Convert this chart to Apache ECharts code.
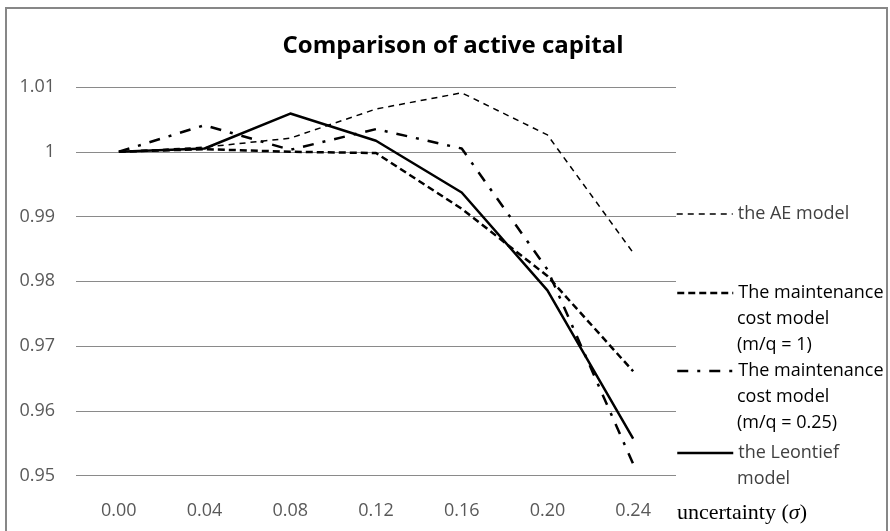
<!DOCTYPE html>
<html>
<head>
<meta charset="utf-8">
<script src="https://cdn.jsdelivr.net/npm/echarts@6/dist/echarts.min.js"></script>
<style>html,body{margin:0;padding:0;background:#fff}#c{width:890px;height:531px}</style>
</head>
<body>
<div id="c"></div>
<script>
const categories = ['0.00', '0.04', '0.08', '0.12', '0.16', '0.20', '0.24'];
const aeModel = [1.0000, 1.0007, 1.0021, 1.0066, 1.0091, 1.0026, 0.9844];
const maint1 = [1.0000, 1.0004, 1.0000, 0.9998, 0.9912, 0.9808, 0.9661];
const maint025 = [1.0000, 1.0041, 1.0003, 1.0035, 1.0005, 0.9818, 0.9518];
const leontief = [1.0000, 1.0005, 1.0059, 1.0017, 0.9937, 0.9786, 0.9557];
const yTicks = { min: 0.95, max: 1.01, interval: 0.01 };
const titleText = 'Comparison of active capital';
const names = ['the AE model', 'The maintenance', 'The maintenance ', 'the Leontief'];
const extraLines = [[], ['cost model', '(m/q = 1)'], ['cost model', '(m/q = 0.25)'], ['model']];

const FONT = '"Open Sans", sans-serif';
const chart = echarts.init(document.getElementById('c'), null, { renderer: 'canvas' });

const lineWidths = [1.5, 2.5, 2.5, 2.5];
const lineDashes = [[6, 5], [7, 4], [11, 9, 3, 9], 'solid'];
const legendCenters = [212, 291, 369, 451];
const legendColors = ['#404040', '#000', '#000', '#404040'];
const legends = names.map((n, i) => ({
  data: [n],
  left: 676,
  top: legendCenters[i] - 7,
  orient: 'vertical',
  itemWidth: 56,
  itemHeight: 14,
  padding: 0,
  selectedMode: false,
  itemStyle: { opacity: 0, borderWidth: 0 },
  lineStyle: { width: lineWidths[i] },
  textStyle: { fontFamily: FONT, fontSize: 18, color: legendColors[i] }
}));

const graphics = [{
  type: 'rect', shape: { x: 6, y: 8, width: 881, height: 560 },
  style: { fill: 'none', stroke: '#878787', lineWidth: 2 }, silent: true
}];
extraLines.forEach((lines, i) => {
  lines.forEach((t, j) => {
    graphics.push({
      type: 'text', left: 737, top: legendCenters[i] + 26 * (j + 1) - 7,
      style: { text: t, font: '18px ' + FONT, fill: legendColors[i] }
    });
  });
});

function mkSeries(i, data, z) {
  return {
    name: names[i], type: 'line', data, symbol: 'none', z,
    lineStyle: { color: '#000', width: lineWidths[i], type: lineDashes[i], join: 'round', cap: 'butt' },
    itemStyle: { color: '#000' }
  };
}

chart.setOption({
  animation: false,
  title: [{
    text: titleText, left: 448, textAlign: 'center', top: 29,
    textStyle: { fontFamily: FONT, fontSize: 24, fontWeight: 'bold', color: '#000' }
  }, {
    text: '{a|uncertainty (}{b|σ}{a|)}', left: 672, top: 497,
    textStyle: {
      fontWeight: 'normal',
      rich: {
        a: { fontFamily: '"Liberation Serif", serif', fontSize: 22, fontWeight: 'normal', color: '#000' },
        b: { fontFamily: '"Liberation Serif", serif', fontSize: 22, fontWeight: 'normal', fontStyle: 'italic', color: '#000' }
      }
    }
  }],
  legend: legends,
  graphic: graphics,
  grid: { left: 76, right: 214, top: 87, bottom: 55.5, containLabel: false },
  xAxis: {
    type: 'category', data: categories, boundaryGap: true,
    axisLine: { show: false }, axisTick: { show: false },
    axisLabel: { margin: 26, fontFamily: FONT, fontSize: 18, color: '#595959' }
  },
  yAxis: {
    type: 'value', min: yTicks.min, max: yTicks.max, interval: yTicks.interval,
    axisLine: { show: false }, axisTick: { show: false },
    axisLabel: { margin: 21, fontFamily: FONT, fontSize: 18, color: '#595959' },
    splitLine: { lineStyle: { color: '#8a8a8a', width: 1 } }
  },
  series: [
    mkSeries(0, aeModel, 2),
    mkSeries(1, maint1, 3),
    mkSeries(2, maint025, 4),
    mkSeries(3, leontief, 5)
  ]
});
</script>
</body>
</html>
